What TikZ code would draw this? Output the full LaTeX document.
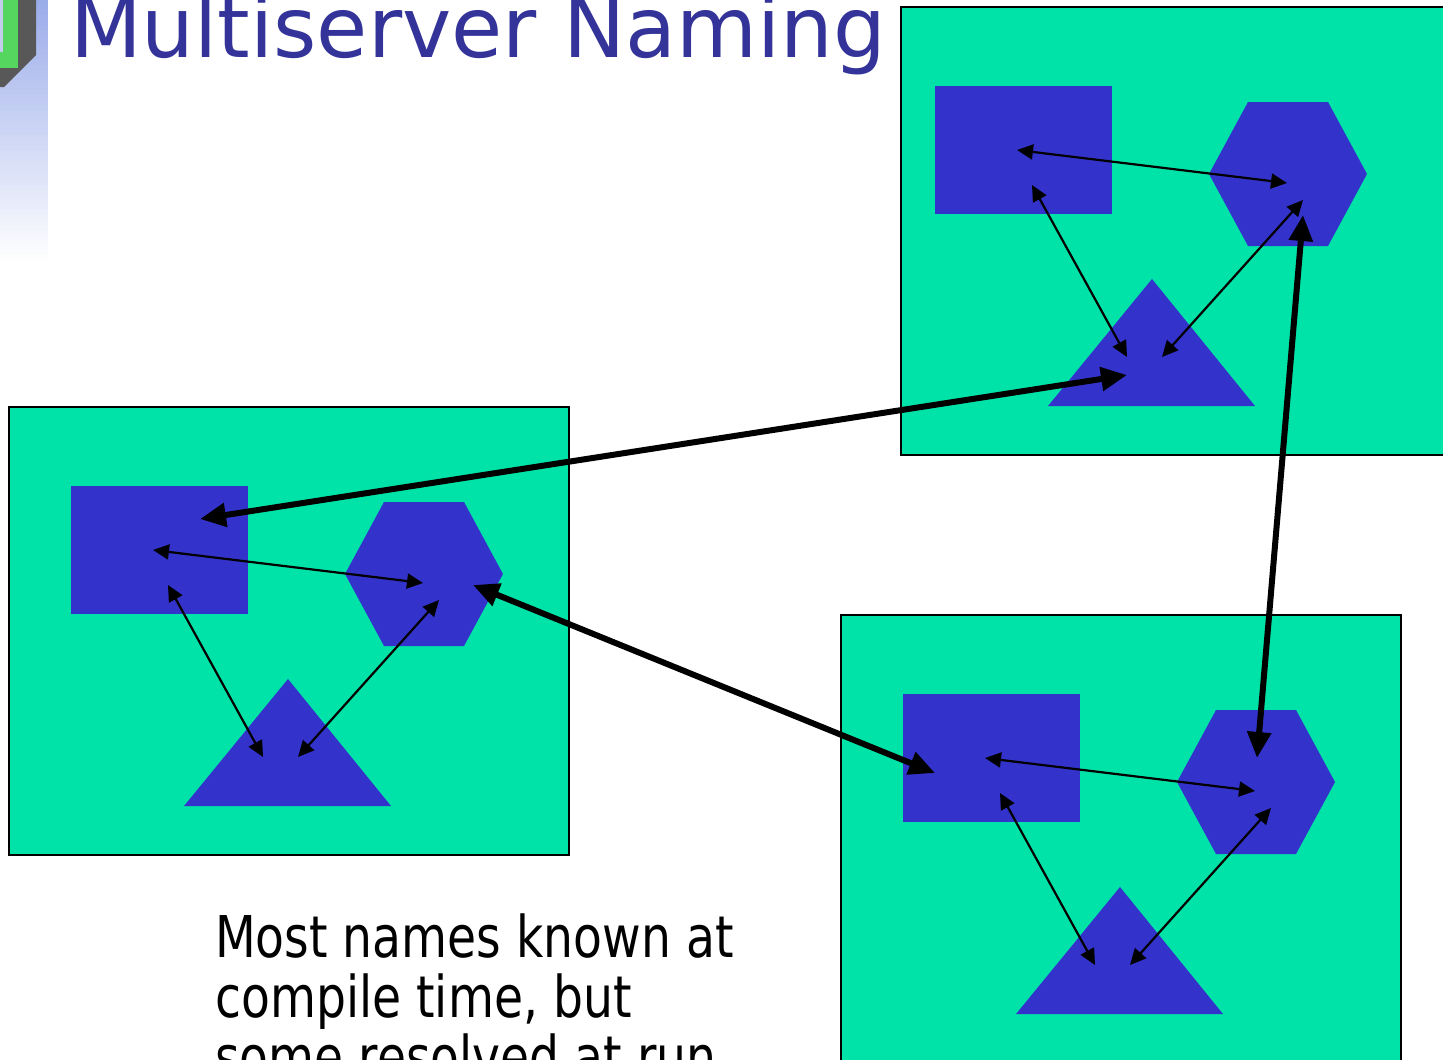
\documentclass[tikz,border=0pt]{standalone}
\usepackage{fontspec}
\usetikzlibrary{arrows.meta}
\newfontfamily\titlefont[FakeStretch=0.99]{DejaVu Sans}
\newfontfamily\bodyfont[FakeStretch=0.82]{DejaVu Sans}
\definecolor{barblue}{RGB}{155,172,234}
\definecolor{logogreen}{RGB}{85,214,95}
\definecolor{logogray}{RGB}{88,88,88}
\definecolor{logolav}{RGB}{196,204,238}
\definecolor{titleblue}{RGB}{51,51,153}
\definecolor{servergreen}{RGB}{0,227,168}
\definecolor{shapeblue}{RGB}{51,51,204}
\tikzset{
  serverbox/.style={draw=black, line width=2pt, fill=servergreen, inner sep=0,
    minimum width=560pt, minimum height=448pt, anchor=north west},
  thinlink/.style={line width=2.2pt,
    {Triangle[length=16pt,width=15pt]}-{Triangle[length=16pt,width=15pt]}},
  thicklink/.style={line width=6pt,
    {Triangle[length=26pt,width=23pt]}-{Triangle[length=26pt,width=23pt]}},
  % one server: square, hexagon and triangle with their local links
  cluster/.pic={
    \fill[shapeblue] (63,80) rectangle (240,208);
    \fill[shapeblue] (337,168) -- (376,96) -- (456,96) -- (495,168)
      -- (456,240) -- (376,240) -- cycle;
    \fill[shapeblue] (280,273) -- (383,400) -- (176,400) -- cycle;
    % link ends inside the shapes
    \coordinate (-rh) at (145,144);
    \coordinate (-hr) at (415,177);
    \coordinate (-rt) at (160,179);
    \coordinate (-tr) at (255,351);
    \coordinate (-ht) at (431,194);
    \coordinate (-th) at (290,351);
    % ends of the links between servers
    \coordinate (-tx) at (255,369);
    \coordinate (-rx) at (192,113);
    \coordinate (-hx) at (465,179);
    \coordinate (-ry) at (95,159);
    \coordinate (-hy) at (431,209);
    \coordinate (-hz) at (417,144);
    \draw[thinlink] (-rh) -- (-hr);
    \draw[thinlink] (-rt) -- (-tr);
    \draw[thinlink] (-ht) -- (-th);
  }
}
\begin{document}
\begin{tikzpicture}[x=1pt,y=-1pt]
\useasboundingbox (0,0) rectangle (1443,1060);
\clip (0,0) rectangle (1443,1060);
\fill[white] (0,0) rectangle (1443,1060);

% fading side bar
\foreach \i in {0,...,51} {
  \pgfmathsetmacro\p{100-\i*100/52}
  \fill[barblue!\p!white] (0,\i*5) rectangle (48,\i*5+5.5);
}
% logo corner
\fill[logogray] (0,0) -- (36,0) -- (36,55) -- (4,87) -- (0,87) -- cycle;
\fill[logogreen] (0,0) rectangle (18,68);
\fill[logolav] (0,0) rectangle (2.5,52);

% title
\node[anchor=base west, inner sep=0, text=titleblue,
  font=\titlefont\fontsize{84}{84}\selectfont] (title) at (70,57) {Multiserver Naming};

% server frames
\node[serverbox] (box1) at (900,6) {};
\node[serverbox] (box2) at (8,406) {};
\node[serverbox] (box3) at (840,614) {};

% server contents
\pic (c1) at (872,6) {cluster};
\pic (c2) at (8,406) {cluster};
\pic (c3) at (840,614) {cluster};

% links between servers
\draw[thicklink] (c1-tx) -- (c2-rx);
\draw[thicklink] (c2-hx) -- (c3-ry);
\draw[thicklink] (c1-hy) -- (c3-hz);

% note
\node[anchor=base west, inner sep=0, font=\bodyfont\fontsize{57.6}{60}\selectfont] (note1) at (215,957) {Most names known at};
\node[anchor=base west, inner sep=0, font=\bodyfont\fontsize{57.6}{60}\selectfont] (note2) at (215,1017) {compile time, but};
\node[anchor=base west, inner sep=0, font=\bodyfont\fontsize{57.6}{60}\selectfont] (note3) at (215,1077) {some resolved at run};
\end{tikzpicture}
\end{document}
